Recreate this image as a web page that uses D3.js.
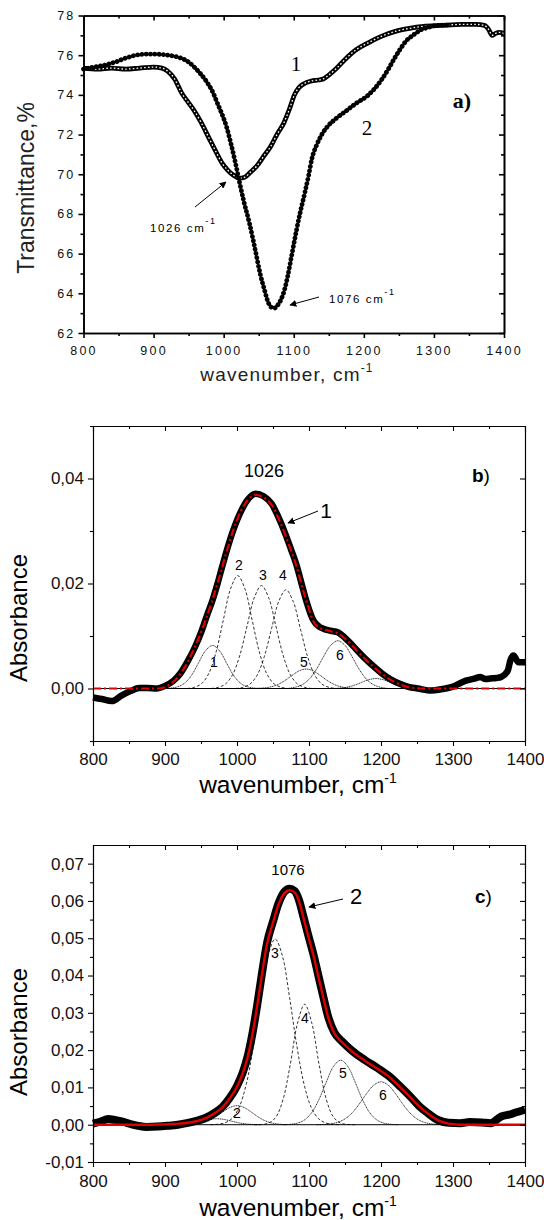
<!DOCTYPE html>
<html>
<head>
<meta charset="utf-8">
<script src="https://cdn.jsdelivr.net/npm/d3@7"></script>
<style>
body { margin: 0; background: #fff; }
text { font-family: "Liberation Sans", Arial, sans-serif; }
</style>
</head>
<body>
<div id="chart"></div>
<script>
var width = 544,
    height = 1220;

// TICKS
var wnTicks = [800, 900, 1000, 1100, 1200, 1300, 1400];
var wnMinor = [850, 950, 1050, 1150, 1250, 1350];
var transTicks = [62, 64, 66, 68, 70, 72, 74, 76, 78];
var transMinor = [63, 65, 67, 69, 71, 73, 75, 77];
var absTicksB = [0, 0.02, 0.04];
var absMinorB = [-0.01, 0.01, 0.03, 0.05];
var absTicksC = [-0.01, 0, 0.01, 0.02, 0.03, 0.04, 0.05, 0.06, 0.07];
var absMinorC = [-0.005, 0.005, 0.015, 0.025, 0.035, 0.045, 0.055, 0.065];

// a) TRANSMITTANCE, curve 1 (open squares) and curve 2 (filled dots)
var trans1 = [[800,75.35],[820,75.3],[840,75.35],[860,75.3],[880,75.35],[900,75.4],[912,75.35],[920,75.2],[930,74.8],[940,74.1],[950,73.6],[958,73.2],[968,72.6],[978,71.9],[988,71.2],[998,70.55],[1006,70.2],[1014,69.95],[1022,69.8],[1030,69.85],[1038,70.1],[1047,70.4],[1057,70.9],[1067,71.4],[1076,72.0],[1086,72.6],[1094,73.3],[1101,74.0],[1107,74.35],[1114,74.55],[1125,74.7],[1135,74.75],[1142,74.8],[1150,75.0],[1160,75.3],[1175,75.85],[1190,76.3],[1205,76.6],[1225,76.95],[1245,77.2],[1265,77.35],[1285,77.45],[1310,77.5],[1340,77.55],[1360,77.55],[1372,77.5],[1378,77.3],[1383,77.0],[1388,77.1],[1393,77.15],[1400,77.1]];
var trans2 = [[800,75.3],[815,75.4],[830,75.5],[845,75.65],[860,75.85],[875,76.0],[890,76.05],[905,76.05],[920,76.0],[935,75.9],[948,75.7],[958,75.4],[966,75.1],[975,74.7],[985,74.1],[992,73.5],[998,73.0],[1004,72.4],[1010,71.6],[1016,70.7],[1022,69.7],[1029,68.6],[1037,67.5],[1045,66.2],[1052,65.0],[1058,64.2],[1064,63.5],[1068,63.3],[1072,63.25],[1077,63.4],[1082,63.7],[1087,64.2],[1091,64.8],[1097,65.9],[1104,67.2],[1110,68.2],[1116,69.1],[1121,69.9],[1126,70.8],[1133,71.5],[1140,72.0],[1148,72.4],[1160,72.8],[1175,73.2],[1190,73.6],[1205,73.95],[1215,74.3],[1225,74.75],[1235,75.3],[1243,75.8],[1250,76.2],[1260,76.7],[1270,77.0],[1280,77.25],[1292,77.4],[1305,77.5],[1320,77.52]];

// b) ABSORBANCE of sample 1, its fit and bands
var absB = [[800,-0.0017],[812,-0.002],[826,-0.0024],[840,-0.0013],[852,-0.0005],[864,0.0001],[876,0.0001],[888,0.0],[900,0.0005],[912,0.0015],[922,0.003],[932,0.0053],[942,0.008],[951,0.011],[958,0.0138],[966,0.0168],[973,0.02],[980,0.0235],[990,0.0282],[1004,0.0333],[1015,0.036],[1026,0.0371],[1037,0.0366],[1048,0.0352],[1058,0.0325],[1067,0.0295],[1075,0.0265],[1082,0.0238],[1091,0.0193],[1096,0.0168],[1106,0.013],[1114,0.0118],[1120,0.0114],[1130,0.011],[1140,0.0107],[1154,0.0091],[1166,0.0074],[1178,0.0057],[1190,0.0042],[1202,0.0028],[1214,0.0017],[1226,0.0009],[1238,0.0003],[1251,0.0],[1270,-0.0004],[1285,-0.0001],[1299,0.0003],[1318,0.0015],[1330,0.0019],[1338,0.0022],[1345,0.0018],[1352,0.0019],[1360,0.002],[1367,0.0022],[1376,0.0034],[1380,0.0055],[1384,0.0063],[1391,0.005],[1400,0.005]];
var fitB = [[800,0],[890,0],[905,0.0006],[915,0.0017],[925,0.0035],[935,0.006],[945,0.009],[955,0.0125],[965,0.0165],[975,0.021],[985,0.0258],[995,0.0302],[1005,0.0337],[1015,0.0359],[1026,0.0369],[1037,0.0364],[1048,0.035],[1058,0.0323],[1067,0.0293],[1075,0.0263],[1082,0.0236],[1091,0.0191],[1098,0.016],[1106,0.0128],[1114,0.0116],[1122,0.0112],[1130,0.0109],[1140,0.0105],[1154,0.009],[1166,0.0073],[1178,0.0056],[1190,0.0041],[1202,0.0027],[1214,0.0016],[1226,0.0008],[1240,0.0002],[1260,0],[1400,0]];
var bandB1 = [[896,0],[906,0.00006],[916,0.00026],[926,0.00089],[936,0.00235],[946,0.00472],[956,0.00714],[966,0.0082],[976,0.00714],[986,0.00472],[996,0.00235],[1006,0.00089],[1016,0.00026],[1026,0.00006],[1036,0]];
var bandB2 = [[931,0],[941,0.00024],[951,0.00094],[961,0.00291],[971,0.00698],[981,0.01304],[991,0.01897],[1001,0.0215],[1011,0.01897],[1021,0.01304],[1031,0.00698],[1041,0.00291],[1051,0.00094],[1061,0.00024],[1071,0]];
var bandB3 = [[964,0],[974,0.00022],[984,0.00086],[994,0.00265],[1004,0.00636],[1014,0.01189],[1024,0.0173],[1034,0.0196],[1044,0.0173],[1054,0.01189],[1064,0.00636],[1074,0.00265],[1084,0.00086],[1094,0.00022],[1104,0]];
var bandB4 = [[998,0],[1008,0.00021],[1018,0.00083],[1028,0.00254],[1038,0.0061],[1048,0.0114],[1058,0.01659],[1068,0.0188],[1078,0.01659],[1088,0.0114],[1098,0.0061],[1108,0.00254],[1118,0.00083],[1128,0.00021],[1138,0]];
var bandB5 = [[1026,0],[1036,0.00009],[1046,0.00028],[1056,0.00071],[1066,0.00146],[1076,0.00245],[1086,0.00334],[1096,0.0037],[1106,0.00334],[1116,0.00245],[1126,0.00146],[1136,0.00071],[1146,0.00028],[1156,0.00009],[1166,0]];
var bandB6 = [[1070,0],[1080,0.00022],[1090,0.00069],[1100,0.00174],[1110,0.00359],[1120,0.00602],[1130,0.00821],[1140,0.0091],[1150,0.00821],[1160,0.00602],[1170,0.00359],[1180,0.00174],[1190,0.00069],[1200,0.00022],[1210,0]];
var bandB7 = [[1133,0],[1143,0.00008],[1153,0.00026],[1163,0.00062],[1173,0.00115],[1183,0.00168],[1193,0.0019],[1203,0.00168],[1213,0.00115],[1223,0.00062],[1233,0.00026],[1243,0.00008],[1253,0]];

// c) ABSORBANCE of sample 2, its fit and bands
var absC = [[800,0.0003],[810,0.0008],[821,0.0015],[830,0.0013],[840,0.0009],[855,0.0],[874,-0.0006],[890,-0.0005],[903,-0.0003],[918,0.0],[932,0.0005],[945,0.0011],[956,0.0018],[970,0.0033],[980,0.0048],[990,0.0072],[1000,0.0104],[1008,0.014],[1015,0.0185],[1021,0.024],[1028,0.032],[1035,0.041],[1042,0.049],[1050,0.0545],[1058,0.0595],[1066,0.0625],[1073,0.0633],[1080,0.0627],[1086,0.0603],[1092,0.056],[1099,0.0508],[1106,0.0458],[1113,0.04],[1120,0.0342],[1127,0.0287],[1135,0.0248],[1145,0.0225],[1160,0.0198],[1178,0.0173],[1195,0.0152],[1212,0.0129],[1228,0.01],[1241,0.0075],[1253,0.005],[1265,0.0031],[1280,0.0012],[1294,0.0005],[1310,0.0004],[1323,0.0007],[1340,0.0006],[1352,0.0004],[1367,0.0022],[1380,0.0028],[1386,0.0032],[1393,0.0036],[1400,0.004]];
var fitC = [[800,0],[880,0],[920,0.0003],[945,0.001],[956,0.0017],[970,0.0032],[980,0.0047],[990,0.0071],[1000,0.0102],[1008,0.0138],[1015,0.0183],[1021,0.0238],[1028,0.0318],[1035,0.0407],[1042,0.0487],[1050,0.0542],[1058,0.0592],[1066,0.0621],[1073,0.0629],[1080,0.0623],[1086,0.06],[1092,0.0557],[1099,0.0505],[1106,0.0455],[1113,0.0397],[1120,0.034],[1127,0.0285],[1135,0.0246],[1145,0.0223],[1160,0.0196],[1178,0.0171],[1195,0.015],[1212,0.0127],[1228,0.0098],[1241,0.0073],[1253,0.0049],[1265,0.003],[1280,0.0011],[1294,0.0003],[1310,0],[1400,0]];
var bandC1 = [[912,0],[922,0.00007],[932,0.00022],[942,0.00052],[952,0.00097],[962,0.00141],[972,0.0016],[982,0.00141],[992,0.00097],[1002,0.00052],[1012,0.00022],[1022,0.00007],[1032,0]];
var bandC2 = [[930,0],[940,0.00012],[950,0.00039],[960,0.00098],[970,0.00201],[980,0.00337],[990,0.0046],[1000,0.0051],[1010,0.0046],[1020,0.00337],[1030,0.00201],[1040,0.00098],[1050,0.00039],[1060,0.00012],[1070,0]];
var bandC3 = [[963,0],[973,0.00012],[983,0.00048],[993,0.00166],[1003,0.00469],[1013,0.01098],[1023,0.02127],[1033,0.03412],[1043,0.04531],[1053,0.0498],[1063,0.04531],[1073,0.03412],[1083,0.02127],[1093,0.01098],[1103,0.00469],[1113,0.00166],[1123,0.00048],[1133,0.00012],[1143,0]];
var bandC4 = [[1024,0],[1034,0.00006],[1044,0.00043],[1054,0.00203],[1064,0.00681],[1074,0.01617],[1084,0.02716],[1094,0.0323],[1104,0.02716],[1114,0.01617],[1124,0.00681],[1134,0.00203],[1144,0.00043],[1154,0.00006],[1164,0]];
var bandC5 = [[1064,0],[1074,0.00011],[1084,0.00042],[1094,0.00131],[1104,0.00331],[1114,0.00683],[1124,0.01144],[1134,0.0156],[1144,0.0173],[1154,0.0156],[1164,0.01144],[1174,0.00683],[1184,0.00331],[1194,0.00131],[1204,0.00042],[1214,0.00011],[1224,0]];
var bandC6 = [[1110,0],[1120,0.00007],[1130,0.00023],[1140,0.00064],[1150,0.00156],[1160,0.0032],[1170,0.0056],[1180,0.00835],[1190,0.01061],[1200,0.0115],[1210,0.01061],[1220,0.00835],[1230,0.0056],[1240,0.0032],[1250,0.00156],[1260,0.00064],[1270,0.00023],[1280,0.00007],[1290,0]];

var svg = d3.select("#chart").append("svg")
    .attr("width", width)
    .attr("height", height);

var defs = svg.append("defs");
defs.append("marker")
    .attr("id", "head")
    .attr("viewBox", "0 0 10 10")
    .attr("refX", 9).attr("refY", 5)
    .attr("markerWidth", 7).attr("markerHeight", 7)
    .attr("markerUnits", "userSpaceOnUse")
    .attr("orient", "auto")
    .append("path").attr("d", "M0,0 L10,5 L0,10 z").attr("fill", "#000");

var comma = d3.formatLocale({decimal: ",", thousands: " ", grouping: [3], currency: ["", ""], minus: "-"}).format(".2f");
var plain = d3.format("d");

// draw the four sides of a panel; left / bottom ticks outward, top / right inward
function frame(g, x, y, o) {
    var x0 = x.range()[0], x1 = x.range()[1], y0 = y.range()[0], y1 = y.range()[1];
    var parts = [
        [d3.axisBottom(x).tickValues(wnTicks).tickSizeInner(5).tickSizeOuter(0).tickPadding(o.xPad).tickFormat(plain), "translate(0," + y0 + ")"],
        [d3.axisBottom(x).tickValues(wnMinor).tickSizeInner(3).tickSizeOuter(0).tickFormat(""), "translate(0," + y0 + ")"],
        [d3.axisTop(x).tickValues(wnTicks).tickSizeInner(-5).tickSizeOuter(0).tickFormat(""), "translate(0," + y1 + ")"],
        [d3.axisTop(x).tickValues(wnMinor).tickSizeInner(-3).tickSizeOuter(0).tickFormat(""), "translate(0," + y1 + ")"],
        [d3.axisLeft(y).tickValues(o.yTicks).tickSizeInner(5).tickSizeOuter(0).tickPadding(o.yPad).tickFormat(o.yFormat), "translate(" + x0 + ",0)"],
        [d3.axisLeft(y).tickValues(o.yMinor).tickSizeInner(3).tickSizeOuter(0).tickFormat(""), "translate(" + x0 + ",0)"],
        [d3.axisRight(y).tickValues(o.yTicks).tickSizeInner(-5).tickSizeOuter(0).tickFormat(""), "translate(" + x1 + ",0)"],
        [d3.axisRight(y).tickValues(o.yMinor).tickSizeInner(-3).tickSizeOuter(0).tickFormat(""), "translate(" + x1 + ",0)"]
    ];
    parts.forEach(function(p) {
        var a = g.append("g").attr("transform", p[1]).call(p[0]);
        a.select(".domain").attr("stroke", "#000").attr("stroke-width", o.lw);
        a.selectAll(".tick line").attr("stroke", "#000").attr("stroke-width", o.lw);
        a.selectAll(".tick text")
            .attr("fill", o.color)
            .style("font-size", o.tickFont + "px")
            .style("letter-spacing", o.spacing + "px");
    });
}

var line = function(x, y, curve) {
    return d3.line()
        .x(function(d) { return x(d[0]); })
        .y(function(d) { return y(d[1]); })
        .curve(curve || d3.curveMonotoneX);
};

function label(g, txt, px, py, size, o) {
    o = o || {};
    var t = g.append("text")
        .attr("x", px).attr("y", py)
        .attr("text-anchor", o.anchor || "middle")
        .style("font-size", size + "px")
        .attr("fill", o.color || "#000")
        .text(txt);
    if (o.family) t.style("font-family", o.family);
    if (o.weight) t.style("font-weight", o.weight);
    if (o.spacing) t.style("letter-spacing", o.spacing + "px");
    return t;
}

function arrow(g, xa, ya, xb, yb) {
    g.append("line")
        .attr("x1", xa).attr("y1", ya).attr("x2", xb).attr("y2", yb)
        .attr("stroke", "#000").attr("stroke-width", 1)
        .attr("marker-end", "url(#head)");
}

// ============ PANEL a ============
var xA = d3.scaleLinear().domain([800, 1400]).range([83.5, 504]);
var yA = d3.scaleLinear().domain([62, 78]).range([333, 15.5]);
var gA = svg.append("g");

gA.append("path").datum(trans1)
    .attr("d", line(xA, yA)).attr("fill", "none")
    .attr("stroke", "#000").attr("stroke-width", 4.8);
gA.append("path").datum(trans1)
    .attr("d", line(xA, yA)).attr("fill", "none")
    .attr("stroke", "#fff").attr("stroke-width", 1.3)
    .attr("stroke-dasharray", "1.6 2.2");
gA.append("path").datum(trans2)
    .attr("d", line(xA, yA)).attr("fill", "none")
    .attr("stroke", "#000").attr("stroke-width", 4.8)
    .attr("stroke-linecap", "round")
    .attr("stroke-dasharray", "0.01 4.3");

frame(gA, xA, yA, {yTicks: transTicks, yMinor: transMinor, yFormat: plain,
    xPad: 8, yPad: 3, lw: 1.6, tickFont: 12.5, spacing: 2.2, color: "#111"});

label(gA, "1", 296, 71, 21, {family: "Liberation Serif"});
label(gA, "2", 367, 135, 21, {family: "Liberation Serif"});
label(gA, "a)", 462, 108, 22, {family: "Liberation Serif", weight: "bold"});

var t1 = label(gA, "1026 cm", 150, 232, 11.5, {anchor: "start", spacing: 1.6});
t1.append("tspan").attr("dy", -8).style("font-size", "9px").text("-1");
arrow(gA, 195, 207, 226, 182);
var t2 = label(gA, "1076 cm", 329, 303, 11.5, {anchor: "start", spacing: 1.6});
t2.append("tspan").attr("dy", -8).style("font-size", "9px").text("-1");
arrow(gA, 319, 297, 290, 305);

var xl = label(gA, "wavenumber,  cm", 287, 381, 19, {spacing: 1.2, color: "#222"});
xl.append("tspan").attr("dy", -9).style("font-size", "12px").text("-1");
gA.append("text")
    .attr("transform", "translate(34,188) rotate(-90)")
    .attr("text-anchor", "middle")
    .style("font-size", "23px")
    .attr("fill", "#222")
    .text("Transmittance,%");

// ============ PANEL b ============
var xB = d3.scaleLinear().domain([800, 1400]).range([93, 525]);
var yB = d3.scaleLinear().domain([-0.01, 0.05]).range([741, 426]);
var gB = svg.append("g");

gB.append("line")
    .attr("x1", xB(800)).attr("x2", xB(1400))
    .attr("y1", yB(0)).attr("y2", yB(0))
    .attr("stroke", "#000").attr("stroke-width", 1);

[[bandB1, false], [bandB2, true], [bandB3, true], [bandB4, true],
 [bandB5, false], [bandB6, false], [bandB7, false]].forEach(function(b) {
    gB.append("path").datum(b[0])
        .attr("d", line(xB, yB, d3.curveCatmullRom)).attr("fill", "none")
        .attr("stroke", "#000").attr("stroke-width", 0.8)
        .attr("stroke-dasharray", b[1] ? "3 2" : "1.2 0.6");
});

gB.append("path").datum(absB)
    .attr("d", line(xB, yB)).attr("fill", "none")
    .attr("stroke", "#000").attr("stroke-width", 6.5);
gB.append("path").datum(fitB)
    .attr("d", line(xB, yB)).attr("fill", "none")
    .attr("stroke", "#e00000").attr("stroke-width", 2.2)
    .attr("stroke-dasharray", "8 3 2 3");

frame(gB, xB, yB, {yTicks: absTicksB, yMinor: absMinorB, yFormat: comma,
    xPad: 7, yPad: 4, lw: 1.1, tickFont: 17, spacing: 0, color: "#111"});

label(gB, "1026", 264, 477, 18);
var bl = label(gB, "b", 472, 482, 19, {anchor: "start", weight: "bold"});
bl.append("tspan").style("font-weight", "normal").text(")");
label(gB, "1", 326, 518, 21);
arrow(gB, 318, 511, 288, 523);
label(gB, "2", 239, 570, 14);
label(gB, "3", 263, 580, 14);
label(gB, "4", 283, 580, 14);
label(gB, "1", 214, 667, 14);
label(gB, "5", 304, 667, 14);
label(gB, "6", 340, 660, 14);

var xlb = label(gB, "wavenumber, cm", 298, 793, 24.5);
xlb.append("tspan").attr("dy", -10).style("font-size", "14px").text("-1");
gB.append("text")
    .attr("transform", "translate(27,618) rotate(-90)")
    .attr("text-anchor", "middle")
    .style("font-size", "24px")
    .text("Absorbance");

// ============ PANEL c ============
var xC = d3.scaleLinear().domain([800, 1400]).range([93, 525]);
var yC = d3.scaleLinear().domain([-0.01, 0.075]).range([1162, 845]);
var gC = svg.append("g");

gC.append("line")
    .attr("x1", xC(800)).attr("x2", xC(1400))
    .attr("y1", yC(0)).attr("y2", yC(0))
    .attr("stroke", "#000").attr("stroke-width", 1);

[[bandC1, false], [bandC2, false], [bandC3, true], [bandC4, true],
 [bandC5, false], [bandC6, false]].forEach(function(b) {
    gC.append("path").datum(b[0])
        .attr("d", line(xC, yC, d3.curveCatmullRom)).attr("fill", "none")
        .attr("stroke", "#000").attr("stroke-width", 0.8)
        .attr("stroke-dasharray", b[1] ? "3 2" : "1.2 0.6");
});

gC.append("path").datum(absC)
    .attr("d", line(xC, yC)).attr("fill", "none")
    .attr("stroke", "#000").attr("stroke-width", 8);
gC.append("path").datum(fitC)
    .attr("d", line(xC, yC)).attr("fill", "none")
    .attr("stroke", "#e00000").attr("stroke-width", 2.4);

frame(gC, xC, yC, {yTicks: absTicksC, yMinor: absMinorC, yFormat: comma,
    xPad: 8, yPad: 4, lw: 1.1, tickFont: 17, spacing: 0, color: "#111"});

label(gC, "1076", 288, 875, 15);
var cl = label(gC, "c", 475, 903, 19, {anchor: "start", weight: "bold"});
cl.append("tspan").style("font-weight", "normal").text(")");
label(gC, "2", 356, 904, 22);
arrow(gC, 343, 899, 309, 907);
label(gC, "3", 275, 958, 14);
label(gC, "4", 305, 1023, 14);
label(gC, "5", 343, 1078, 14);
label(gC, "6", 383, 1100, 14);
label(gC, "2", 237, 1118, 14);

var xlc = label(gC, "wavenumber, cm", 298, 1216, 24.5);
xlc.append("tspan").attr("dy", -10).style("font-size", "14px").text("-1");
gC.append("text")
    .attr("transform", "translate(27,1032) rotate(-90)")
    .attr("text-anchor", "middle")
    .style("font-size", "24px")
    .text("Absorbance");
</script>
</body>
</html>
